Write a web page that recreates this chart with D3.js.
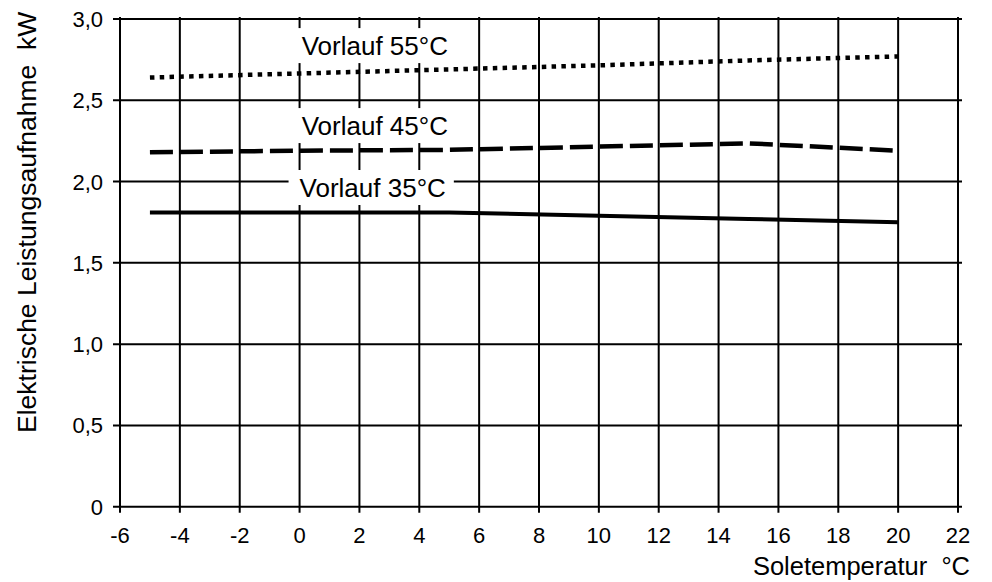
<!doctype html>
<html lang="de">
  <head>
    <meta charset="utf-8">
    <title>Elektrische Leistungsaufnahme</title>
    <script src="https://d3js.org/d3.v7.min.js"></script>
    <style>
      body { margin: 0; background: #fff; }
      svg text { font-family: "Liberation Sans", Arial, sans-serif; fill: #000; }
    </style>
  </head>
  <body>
    <div id="container"></div>
  </body>
  <script>
    // Data
    const soleTemps = [-5, 0, 5, 10, 15, 20]
    const vorlauf35 = [1.81, 1.81, 1.81, 1.79, 1.77, 1.75]
    const vorlauf45 = [2.18, 2.19, 2.195, 2.215, 2.235, 2.19]
    const vorlauf55 = [2.64, 2.665, 2.69, 2.715, 2.745, 2.77]
    const xTicks = [-6, -4, -2, 0, 2, 4, 6, 8, 10, 12, 14, 16, 18, 20, 22]
    const yTicks = [0, 0.5, 1.0, 1.5, 2.0, 2.5, 3.0]
    const seriesNames = ["Vorlauf 35°C", "Vorlauf 45°C", "Vorlauf 55°C"]
    // where each label sits (data coordinates of the text start / baseline)
    const labelX = [0, 0.07, 0.07]
    const labelY = [1.905, 2.286, 2.778]

    const width = 992
    const height = 582
    const plot = {left: 120, right: 958, top: 19, bottom: 506.7}

    const svg = d3.select("#container")
      .append("svg")
        .attr("width", width)
        .attr("height", height)

    const x = d3.scaleLinear().domain([-6, 22]).range([plot.left, plot.right])
    const y = d3.scaleLinear().domain([0, 3]).range([plot.bottom, plot.top])

    // Grid (also acts as tick marks)
    svg.append("g").selectAll("line")
      .data(xTicks)
      .join("line")
        .attr("x1", d => x(d)).attr("x2", d => x(d))
        .attr("y1", plot.top - 2).attr("y2", plot.bottom + 6)
        .attr("stroke", "#000").attr("stroke-width", 2)

    svg.append("g").selectAll("line")
      .data(yTicks)
      .join("line")
        .attr("x1", plot.left - 7).attr("x2", plot.right + 4)
        .attr("y1", d => y(d)).attr("y2", d => y(d))
        .attr("stroke", "#000").attr("stroke-width", 2)

    // Tick labels
    svg.append("g").selectAll("text")
      .data(xTicks)
      .join("text")
        .attr("x", d => x(d))
        .attr("y", 543)
        .attr("text-anchor", "middle")
        .attr("font-size", 22)
        .text(d => d)

    svg.append("g").selectAll("text")
      .data(yTicks)
      .join("text")
        .attr("x", 103)
        .attr("y", d => y(d) + 8)
        .attr("text-anchor", "end")
        .attr("font-size", 22)
        .text(d => d === 0 ? "0" : d3.format(".1f")(d).replace(".", ","))

    // Axis titles
    svg.append("text")
      .attr("x", 970)
      .attr("y", 575)
      .attr("text-anchor", "end")
      .attr("font-size", 25.5)
      .attr("xml:space", "preserve")
      .text("Soletemperatur  °C")

    svg.append("text")
      .attr("transform", "translate(36,433) rotate(-90)")
      .attr("text-anchor", "start")
      .attr("font-size", 26.5)
      .attr("xml:space", "preserve")
      .text("Elektrische Leistungsaufnahme  kW")

    // Labels with white backing boxes that hide the grid
    const labels = svg.append("g")
    const labelTexts = seriesNames.map((name, i) => {
      const t = labels.append("text")
        .attr("x", x(labelX[i]))
        .attr("y", y(labelY[i]))
        .attr("font-size", 26)
        .text(name)
      return t
    })
    labelTexts.forEach(t => {
      const b = t.node().getBBox()
      labels.insert("rect", "text")
        .attr("x", b.x - 11)
        .attr("y", b.y - 3)
        .attr("width", b.width + 19)
        .attr("height", b.height + 5)
        .attr("fill", "#fff")
    })

    // Series lines
    const line = d3.line()
      .x(d => x(d[0]))
      .y(d => y(d[1]))

    const series = [
      {values: vorlauf35, dash: null, w: 4},
      {values: vorlauf45, dash: "23,7", w: 4.5},
      {values: vorlauf55, dash: "4.5,5.3", w: 4.5}
    ]

    series.forEach(s => {
      svg.append("path")
        .attr("d", line(soleTemps.map((t, i) => [t, s.values[i]])))
        .attr("fill", "none")
        .attr("stroke", "#000")
        .attr("stroke-width", s.w)
        .attr("stroke-dasharray", s.dash)
    })
  </script>
</html>
